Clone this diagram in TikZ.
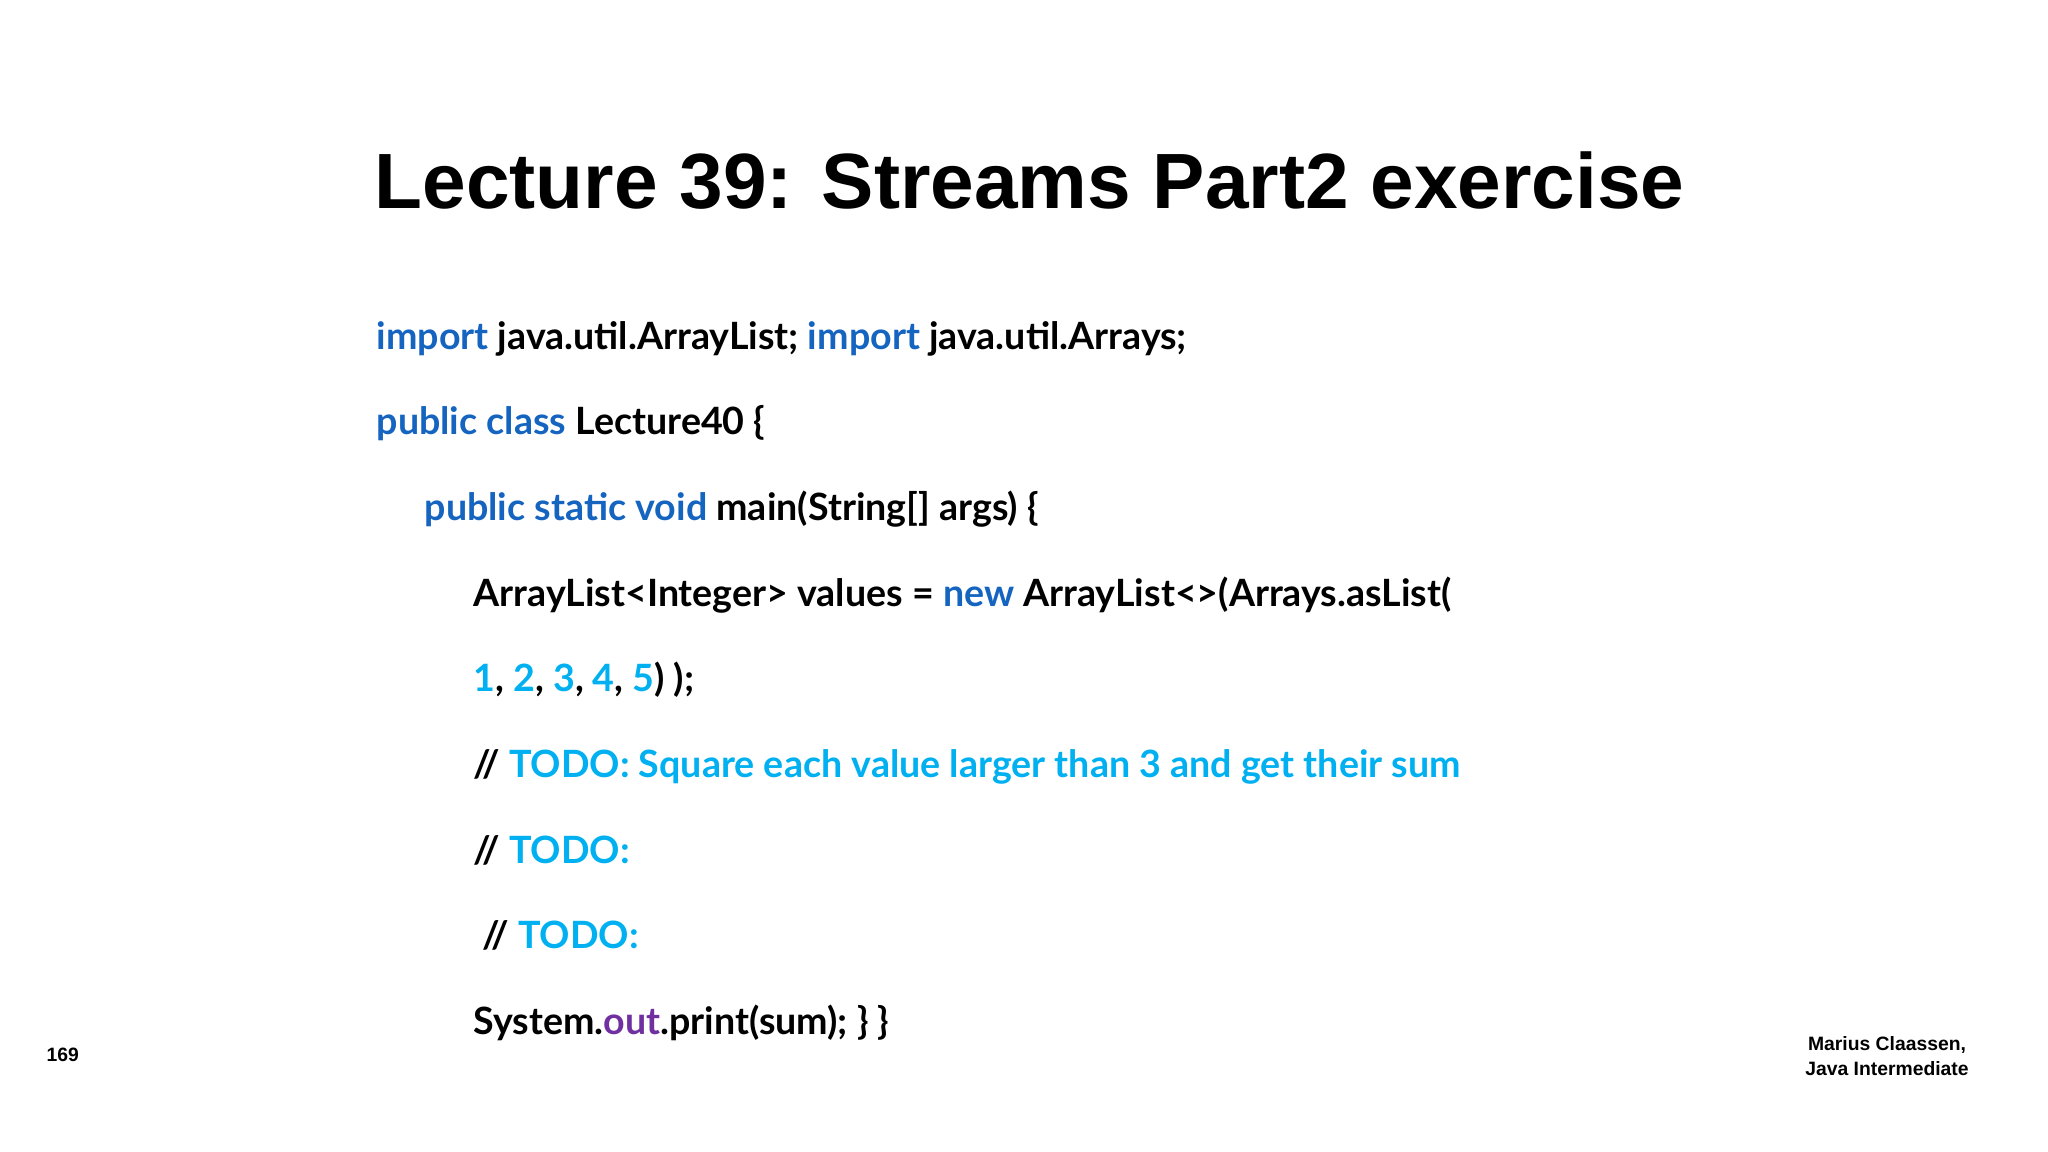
\documentclass[tikz,border=0pt]{standalone}
\usepackage{fontspec}
\setmainfont{Lato}
\newfontfamily\titlefont{Liberation Sans}
\definecolor{kwblue}{HTML}{1565C0}
\definecolor{todocyan}{HTML}{00B0F0}
\definecolor{outpurple}{HTML}{7030A0}
\newcommand{\kw}[1]{\textcolor{kwblue}{#1}}
\newcommand{\cy}[1]{\textcolor{todocyan}{#1}}
\tikzset{codeline/.style={anchor=base west,inner sep=0pt,font=\fontsize{10.7}{12}\selectfont\bfseries}}
\begin{document}
\begin{tikzpicture}
\useasboundingbox (0,0) rectangle (20.48,11.52);
\node[anchor=base west,inner sep=0pt,font=\titlefont\fontsize{22.3}{26}\selectfont\bfseries] (title) at (3.74,9.43) {Lecture 39: Streams Part2 exercise};
\begin{scope}[every node/.style={codeline}]
    \node (l1) at (3.76,8.02) {\kw{import} java.util.ArrayList; \kw{import} java.util.Arrays;};
    \node (l2) at (3.76,7.17) {\kw{public class} Lecture40 \{};
    \node (l3) at (4.24,6.31) {\kw{public static void} main(String[] args) \{};
    \node (l4) at (4.73,5.45) {ArrayList<Integer> values = \kw{new} ArrayList<>(Arrays.asList(};
    \node (l5) at (4.73,4.60) {\cy{1}, \cy{2}, \cy{3}, \cy{4}, \cy{5}) );};
    \node (l6) at (4.73,3.74) {// \cy{TODO: Square each value larger than 3 and get their sum}};
    \node (l7) at (4.73,2.88) {// \cy{TODO:}};
    \node (l8) at (4.82,2.03) {// \cy{TODO:}};
    \node (l9) at (4.73,1.17) {System.\textcolor{outpurple}{out}.print(sum); \} \}};
\end{scope}
\node[anchor=west,inner sep=0pt,font=\titlefont\fontsize{5.5}{7}\selectfont\bfseries] (page) at (0.46,0.97) {169};
\node[align=center,inner sep=0pt,font=\titlefont\fontsize{5.5}{7}\selectfont\bfseries] (author) at (18.87,0.96) {Marius Claassen,\\Java Intermediate};
\end{tikzpicture}
\end{document}
